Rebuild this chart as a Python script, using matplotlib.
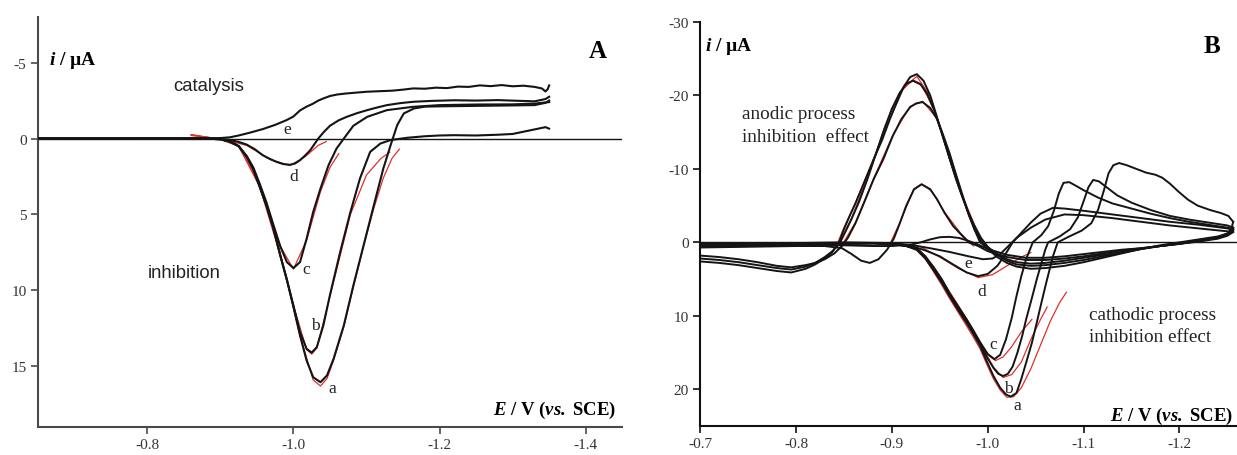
import matplotlib
matplotlib.use('Agg')
import matplotlib.pyplot as plt

plt.rcParams['font.family'] = 'Liberation Serif'
plt.rcParams['axes.unicode_minus'] = False
plt.rcParams['mathtext.fontset'] = 'custom'
plt.rcParams['mathtext.rm'] = 'Liberation Serif'
plt.rcParams['mathtext.it'] = 'Liberation Serif:italic'
plt.rcParams['mathtext.bf'] = 'Liberation Serif:bold'
plt.rcParams['mathtext.bfit'] = 'Liberation Serif:italic:bold'

# ---------------- panel A data: (E / V, i / uA)
A_e = [(-0.65, 0.0), (-0.72, 0.02), (-0.80, 0.0), (-0.86, 0.0), (-0.90, -0.03), (-0.913, -0.08),
       (-0.925, -0.2), (-0.94, -0.38), (-0.958, -0.62), (-0.975, -0.9), (-0.99, -1.2), (-1.0, -1.45),
       (-1.009, -1.85), (-1.018, -2.1), (-1.027, -2.3), (-1.034, -2.5), (-1.041, -2.64), (-1.05, -2.8),
       (-1.06, -2.9), (-1.073, -2.97), (-1.085, -3.02), (-1.1, -3.08), (-1.119, -3.12), (-1.135, -3.15),
       (-1.15, -3.22), (-1.164, -3.3), (-1.18, -3.28), (-1.195, -3.35), (-1.21, -3.32), (-1.225, -3.42),
       (-1.24, -3.4), (-1.255, -3.5), (-1.27, -3.45), (-1.285, -3.52), (-1.3, -3.44), (-1.315, -3.48),
       (-1.33, -3.4), (-1.34, -3.3), (-1.345, -3.1), (-1.348, -3.25), (-1.35, -3.5)]
A_d = [(-0.65, 0.0), (-0.80, 0.0), (-0.88, 0.0), (-0.90, 0.02), (-0.913, 0.1), (-0.925, 0.22),
       (-0.936, 0.4), (-0.947, 0.7), (-0.958, 1.1), (-0.968, 1.35), (-0.977, 1.54), (-0.986, 1.68),
       (-0.995, 1.73), (-1.002, 1.65), (-1.009, 1.43), (-1.016, 1.12), (-1.023, 0.77), (-1.034, 0.0),
       (-1.042, -0.45), (-1.05, -0.84), (-1.062, -1.2), (-1.073, -1.43), (-1.087, -1.67), (-1.101, -1.87),
       (-1.115, -2.05), (-1.128, -2.2), (-1.146, -2.33), (-1.164, -2.42), (-1.19, -2.48), (-1.22, -2.52),
       (-1.25, -2.5), (-1.28, -2.53), (-1.31, -2.48), (-1.33, -2.45), (-1.345, -2.6), (-1.35, -2.75)]
A_c = [(-0.65, 0.0), (-0.80, 0.0), (-0.88, 0.0), (-0.90, 0.05), (-0.913, 0.2), (-0.925, 0.5),
       (-0.936, 1.15), (-0.945, 1.9), (-0.954, 3.0), (-0.963, 4.2), (-0.972, 5.6), (-0.982, 7.1),
       (-0.991, 8.14), (-1.0, 8.53), (-1.009, 8.14), (-1.018, 6.6), (-1.027, 4.84), (-1.037, 3.3),
       (-1.048, 1.76), (-1.059, 0.66), (-1.069, 0.0), (-1.082, -0.84), (-1.101, -1.43), (-1.128, -1.87),
       (-1.164, -2.09), (-1.2, -2.2), (-1.25, -2.24), (-1.3, -2.25), (-1.33, -2.3), (-1.35, -2.4)]
A_b = [(-0.65, 0.0), (-0.80, 0.0), (-0.88, 0.0), (-0.90, 0.05), (-0.913, 0.2), (-0.925, 0.5),
       (-0.936, 1.2), (-0.945, 2.0), (-0.954, 3.2), (-0.963, 4.4), (-0.972, 5.8), (-0.982, 7.7),
       (-0.991, 9.3), (-1.0, 11.0), (-1.009, 12.75), (-1.018, 13.85), (-1.025, 14.1), (-1.032, 13.74),
       (-1.041, 12.3), (-1.05, 10.3), (-1.064, 7.47), (-1.078, 4.84), (-1.091, 2.64), (-1.105, 0.88),
       (-1.119, 0.33), (-1.133, 0.1), (-1.156, -0.05), (-1.18, -0.15), (-1.2, -0.2), (-1.22, -0.22),
       (-1.25, -0.2), (-1.28, -0.25), (-1.3, -0.3), (-1.315, -0.45), (-1.33, -0.6), (-1.345, -0.75),
       (-1.35, -0.65)]
A_a = [(-0.65, 0.0), (-0.80, 0.0), (-0.88, 0.0), (-0.90, 0.05), (-0.913, 0.2), (-0.925, 0.5),
       (-0.936, 1.2), (-0.945, 2.0), (-0.954, 3.2), (-0.963, 4.4), (-0.972, 5.8), (-0.982, 7.7),
       (-0.991, 9.3), (-1.0, 11.1), (-1.009, 12.97), (-1.018, 14.62), (-1.027, 15.72), (-1.037, 16.05),
       (-1.046, 15.6), (-1.055, 14.5), (-1.069, 12.3), (-1.082, 9.68), (-1.096, 7.04), (-1.11, 4.4),
       (-1.123, 1.98), (-1.133, 0.44), (-1.142, -0.88), (-1.151, -1.65), (-1.165, -1.98), (-1.18, -2.1),
       (-1.2, -2.12), (-1.25, -2.15), (-1.3, -2.18), (-1.33, -2.2), (-1.345, -2.35), (-1.35, -2.5)]

# red fitted peaks, panel A
A_fit_a = [(-0.86, -0.25), (-0.88, -0.1), (-0.90, 0.05), (-0.913, 0.2), (-0.925, 0.5), (-0.936, 1.2),
           (-0.954, 3.2), (-0.972, 5.8), (-0.991, 9.3), (-1.009, 13.0), (-1.027, 15.9), (-1.037, 16.3),
           (-1.046, 15.8), (-1.055, 14.6), (-1.069, 12.4), (-1.082, 9.8), (-1.096, 7.1), (-1.11, 4.6),
           (-1.123, 2.6), (-1.135, 1.3), (-1.145, 0.7)]
A_fit_b = [(-0.86, -0.25), (-0.90, 0.05), (-0.925, 0.5), (-0.954, 3.2), (-0.982, 7.7), (-1.0, 11.0),
           (-1.018, 13.9), (-1.025, 14.2), (-1.032, 13.8), (-1.05, 10.4), (-1.078, 5.0), (-1.1, 2.4),
           (-1.12, 1.3), (-1.132, 0.9)]
A_fit_c = [(-0.86, -0.2), (-0.90, 0.05), (-0.925, 0.5), (-0.954, 3.0), (-0.982, 7.1), (-1.0, 8.6),
           (-1.018, 6.7), (-1.037, 3.5), (-1.05, 1.9), (-1.062, 1.0)]
A_fit_d = [(-0.87, -0.15), (-0.90, 0.02), (-0.936, 0.45), (-0.968, 1.38), (-0.995, 1.78),
           (-1.016, 1.2), (-1.034, 0.45), (-1.045, 0.2)]

# ---------------- panel B data: forward (to -1.26 V) and reverse scans
B_a_fwd = [(-0.70, 0.5), (-0.75, 0.4), (-0.80, 0.3), (-0.85, 0.2), (-0.88, 0.15), (-0.90, 0.2),
           (-0.915, 0.5), (-0.926, 1.0), (-0.935, 2.2), (-0.943, 3.7), (-0.952, 5.5), (-0.96, 7.3),
           (-0.969, 9.2), (-0.978, 11.0), (-0.985, 12.5), (-0.992, 14.1), (-0.999, 16.2), (-1.006, 18.2),
           (-1.013, 19.8), (-1.019, 20.7), (-1.024, 21.0), (-1.03, 20.5), (-1.035, 18.6), (-1.04, 16.4),
           (-1.046, 13.7), (-1.051, 11.0), (-1.056, 8.2), (-1.061, 5.5), (-1.068, 1.9), (-1.073, 0.0),
           (-1.085, -0.8), (-1.098, -1.6), (-1.108, -2.6), (-1.115, -4.4), (-1.121, -7.0),
           (-1.126, -9.4), (-1.131, -10.5), (-1.137, -10.8), (-1.145, -10.5), (-1.155, -10.0),
           (-1.165, -9.5), (-1.175, -9.2), (-1.182, -8.8), (-1.19, -8.0), (-1.199, -6.9),
           (-1.209, -5.8), (-1.219, -5.0), (-1.232, -4.4), (-1.243, -4.0), (-1.251, -3.6), (-1.256, -2.8)]
B_a_rev = [(-1.256, -2.8), (-1.254, -1.8), (-1.25, -1.2), (-1.24, -0.8), (-1.22, -0.4), (-1.2, 0.0),
           (-1.18, 0.4), (-1.16, 0.9), (-1.14, 1.5), (-1.12, 2.1), (-1.10, 2.7), (-1.08, 3.2),
           (-1.06, 3.5), (-1.045, 3.6), (-1.03, 3.3), (-1.02, 2.8), (-1.01, 2.0), (-1.0, 0.9),
           (-0.992, -0.4), (-0.986, -2.0), (-0.981, -3.6), (-0.974, -6.0), (-0.967, -8.6), (-0.96, -11.5),
           (-0.953, -14.5), (-0.946, -17.5), (-0.94, -20.0), (-0.933, -22.0), (-0.926, -22.9),
           (-0.919, -22.5), (-0.912, -21.1), (-0.905, -19.0), (-0.898, -16.8), (-0.89, -14.0),
           (-0.881, -11.3), (-0.87, -7.8), (-0.862, -5.3), (-0.856, -3.6), (-0.85, -1.8), (-0.845, 0.0),
           (-0.838, 1.3), (-0.83, 2.2), (-0.82, 3.0), (-0.81, 3.6), (-0.795, 4.1), (-0.78, 3.9),
           (-0.76, 3.5), (-0.74, 3.1), (-0.72, 2.8), (-0.70, 2.6)]
B_b_fwd = [(-0.70, 0.4), (-0.75, 0.35), (-0.80, 0.25), (-0.85, 0.15), (-0.88, 0.1), (-0.90, 0.2),
           (-0.915, 0.45), (-0.926, 0.9), (-0.935, 2.0), (-0.943, 3.5), (-0.952, 5.2), (-0.96, 7.0),
           (-0.969, 8.9), (-0.978, 10.7), (-0.985, 12.2), (-0.992, 13.8), (-0.999, 15.6), (-1.006, 17.1),
           (-1.011, 17.9), (-1.016, 18.2), (-1.021, 17.9), (-1.026, 16.9), (-1.031, 15.0), (-1.036, 12.7),
           (-1.04, 10.5), (-1.046, 7.6), (-1.051, 5.1), (-1.056, 2.8), (-1.06, 1.0), (-1.063, 0.0),
           (-1.075, -0.8), (-1.086, -1.8), (-1.094, -3.4), (-1.1, -5.6), (-1.105, -7.5),
           (-1.11, -8.5), (-1.116, -8.3), (-1.125, -7.4), (-1.135, -6.4), (-1.15, -5.4), (-1.17, -4.4),
           (-1.19, -3.6), (-1.21, -3.1), (-1.23, -2.7), (-1.25, -2.3), (-1.256, -2.0)]
B_b_rev = [(-1.256, -2.0), (-1.25, -1.2), (-1.24, -0.7), (-1.22, -0.3), (-1.2, 0.1), (-1.18, 0.5),
           (-1.16, 0.9), (-1.14, 1.4), (-1.12, 1.9), (-1.1, 2.4), (-1.08, 2.8), (-1.06, 3.1),
           (-1.045, 3.2), (-1.03, 3.0), (-1.02, 2.5), (-1.01, 1.7), (-1.0, 0.6), (-0.993, -0.6),
           (-0.986, -2.3), (-0.979, -4.3), (-0.972, -6.8), (-0.965, -9.5), (-0.958, -12.4),
           (-0.951, -15.3), (-0.944, -18.0), (-0.937, -20.2), (-0.93, -21.5), (-0.922, -22.0),
           (-0.915, -21.6), (-0.908, -20.3), (-0.9, -18.2), (-0.892, -15.4), (-0.884, -12.3),
           (-0.875, -8.8), (-0.866, -5.6), (-0.858, -3.2), (-0.851, -1.3), (-0.846, 0.0), (-0.838, 1.2),
           (-0.83, 2.0), (-0.82, 2.8), (-0.81, 3.3), (-0.795, 3.7), (-0.78, 3.5), (-0.76, 3.1),
           (-0.74, 2.7), (-0.72, 2.4), (-0.70, 2.2)]
B_c_fwd = [(-0.70, 0.6), (-0.75, 0.45), (-0.80, 0.3), (-0.85, 0.2), (-0.88, 0.15), (-0.90, 0.25),
           (-0.915, 0.5), (-0.926, 0.8), (-0.935, 1.9), (-0.943, 3.3), (-0.952, 5.0), (-0.96, 6.9),
           (-0.969, 8.7), (-0.978, 10.5), (-0.985, 12.0), (-0.992, 13.6), (-1.0, 15.2), (-1.007, 15.9),
           (-1.013, 15.3), (-1.019, 13.2), (-1.025, 10.3), (-1.03, 7.3), (-1.035, 4.6), (-1.04, 2.3),
           (-1.047, 0.0), (-1.056, -1.0), (-1.063, -2.2), (-1.069, -4.3), (-1.074, -6.6),
           (-1.079, -8.1), (-1.085, -8.2), (-1.092, -7.7), (-1.1, -7.1), (-1.115, -6.1), (-1.13, -5.3),
           (-1.15, -4.6), (-1.17, -3.9), (-1.19, -3.3), (-1.21, -2.8), (-1.23, -2.4), (-1.25, -2.0),
           (-1.256, -1.8)]
B_c_rev = [(-1.256, -1.8), (-1.25, -1.1), (-1.24, -0.6), (-1.22, -0.2), (-1.2, 0.2), (-1.18, 0.5),
           (-1.16, 0.9), (-1.14, 1.3), (-1.12, 1.7), (-1.1, 2.1), (-1.08, 2.5), (-1.06, 2.8),
           (-1.045, 2.9), (-1.03, 2.7), (-1.02, 2.3), (-1.01, 1.6), (-1.0, 0.7), (-0.992, 0.0),
           (-0.986, -1.8), (-0.98, -3.8), (-0.974, -6.3), (-0.967, -9.2), (-0.96, -12.2), (-0.953, -14.8),
           (-0.947, -16.8), (-0.94, -18.3), (-0.932, -19.1), (-0.925, -18.9), (-0.919, -18.4),
           (-0.91, -16.8), (-0.901, -14.5), (-0.891, -11.3), (-0.881, -8.6), (-0.871, -5.4),
           (-0.862, -2.6), (-0.854, -0.6), (-0.848, 0.5), (-0.84, 1.5), (-0.83, 2.3), (-0.82, 2.8),
           (-0.81, 3.1), (-0.795, 3.4), (-0.78, 3.2), (-0.76, 2.7), (-0.74, 2.3), (-0.72, 2.0),
           (-0.70, 1.8)]
B_d_fwd = [(-0.70, 0.3), (-0.75, 0.25), (-0.80, 0.2), (-0.85, 0.1), (-0.88, 0.1), (-0.90, 0.2),
           (-0.92, 0.5), (-0.935, 1.1), (-0.95, 1.9), (-0.965, 3.1), (-0.978, 4.1), (-0.99, 4.6),
           (-1.0, 4.3), (-1.01, 3.2), (-1.018, 1.7), (-1.026, 0.0), (-1.035, -1.3), (-1.045, -2.7),
           (-1.055, -3.9), (-1.068, -4.7), (-1.08, -4.6), (-1.1, -4.3), (-1.13, -3.8), (-1.16, -3.3),
           (-1.19, -2.8), (-1.22, -2.4), (-1.25, -1.9), (-1.256, -1.7)]
B_d_rev = [(-1.256, -1.7), (-1.25, -1.0), (-1.24, -0.6), (-1.22, -0.2), (-1.2, 0.2), (-1.18, 0.5),
           (-1.16, 0.8), (-1.14, 1.1), (-1.12, 1.5), (-1.1, 1.9), (-1.08, 2.2), (-1.06, 2.4),
           (-1.04, 2.4), (-1.02, 2.0), (-1.0, 1.2), (-0.99, 0.5), (-0.98, 0.0), (-0.972, -1.1),
           (-0.964, -2.2), (-0.955, -4.0), (-0.947, -5.9), (-0.94, -7.2), (-0.931, -7.9), (-0.923, -7.2),
           (-0.915, -5.0), (-0.908, -2.5), (-0.902, -0.5), (-0.895, 1.0), (-0.886, 2.3), (-0.877, 2.8),
           (-0.868, 2.5), (-0.858, 1.6), (-0.848, 0.8), (-0.83, 0.5), (-0.8, 0.5), (-0.75, 0.6),
           (-0.70, 0.7)]
B_e_fwd = [(-0.70, 0.2), (-0.75, 0.15), (-0.80, 0.1), (-0.85, 0.0), (-0.90, 0.1), (-0.92, 0.35),
           (-0.94, 0.8), (-0.96, 1.3), (-0.98, 1.9), (-0.995, 2.3), (-1.005, 2.2), (-1.013, 1.6),
           (-1.02, 0.7), (-1.03, -0.6), (-1.045, -2.0), (-1.06, -3.1), (-1.08, -3.8), (-1.1, -3.7),
           (-1.13, -3.3), (-1.16, -2.8), (-1.19, -2.3), (-1.22, -1.9), (-1.25, -1.5), (-1.256, -1.4)]
B_e_rev = [(-1.256, -1.4), (-1.25, -0.9), (-1.24, -0.5), (-1.22, -0.1), (-1.2, 0.2), (-1.18, 0.5),
           (-1.16, 0.8), (-1.14, 1.0), (-1.12, 1.3), (-1.1, 1.6), (-1.08, 1.9), (-1.06, 2.1),
           (-1.04, 2.1), (-1.02, 1.7), (-1.0, 0.9), (-0.99, 0.3), (-0.98, -0.2), (-0.97, -0.6),
           (-0.96, -0.75), (-0.95, -0.7), (-0.94, -0.4), (-0.93, 0.0), (-0.92, 0.3), (-0.9, 0.5),
           (-0.88, 0.5), (-0.85, 0.4), (-0.8, 0.4), (-0.75, 0.5), (-0.70, 0.6)]

# red fitted peaks, panel B
B_fit_cath_a = [(-0.90, 0.1), (-0.915, 0.5), (-0.926, 1.1), (-0.935, 2.3), (-0.943, 3.9), (-0.952, 5.8),
                (-0.96, 7.6), (-0.969, 9.5), (-0.978, 11.4), (-0.985, 12.9), (-0.992, 14.5), (-0.999, 16.6),
                (-1.006, 18.6), (-1.013, 20.1), (-1.02, 21.1), (-1.027, 21.0), (-1.035, 19.8),
                (-1.045, 17.2), (-1.055, 14.0), (-1.065, 10.8), (-1.075, 8.2), (-1.082, 6.8)]
B_fit_cath_b = [(-0.90, 0.1), (-0.926, 0.8), (-0.943, 3.3), (-0.96, 6.8), (-0.978, 10.5), (-0.992, 13.7),
                (-1.006, 17.0), (-1.016, 18.4), (-1.025, 18.0), (-1.035, 16.3), (-1.045, 13.2),
                (-1.055, 10.5), (-1.062, 8.8)]
B_fit_cath_c = [(-0.90, 0.1), (-0.926, 0.9), (-0.943, 3.2), (-0.96, 6.7), (-0.978, 10.4), (-0.992, 13.5),
                (-1.0, 15.3), (-1.008, 16.1), (-1.016, 15.6), (-1.025, 14.2), (-1.035, 12.2),
                (-1.046, 10.5)]
B_fit_cath_d = [(-0.93, 0.6), (-0.95, 2.0), (-0.97, 3.6), (-0.99, 4.8), (-1.005, 4.4), (-1.02, 3.2),
                (-1.035, 2.0), (-1.045, 1.4)]
B_fit_an_a = [(-0.998, 0.8), (-0.992, -0.3), (-0.981, -3.5), (-0.967, -8.5), (-0.953, -14.4),
              (-0.94, -19.9), (-0.926, -22.6), (-0.912, -21.0), (-0.898, -16.9), (-0.881, -11.4),
              (-0.862, -5.4), (-0.85, -2.0), (-0.842, 0.5)]
B_fit_an_b = [(-0.997, 0.6), (-0.986, -2.4), (-0.972, -6.9), (-0.958, -12.5), (-0.944, -18.1),
              (-0.93, -21.6), (-0.922, -22.1), (-0.908, -20.4), (-0.892, -15.5), (-0.875, -8.9),
              (-0.858, -3.3), (-0.843, 0.6)]
B_fit_an_c = [(-0.996, 0.6), (-0.986, -1.7), (-0.974, -6.2), (-0.96, -12.1), (-0.947, -16.9),
              (-0.932, -19.2), (-0.919, -18.5), (-0.901, -14.6), (-0.881, -8.7), (-0.862, -2.7),
              (-0.846, 0.8)]
B_fit_an_d = [(-0.985, 0.5), (-0.972, -1.2), (-0.955, -4.1), (-0.94, -7.3), (-0.931, -7.95),
              (-0.923, -7.3), (-0.908, -2.6), (-0.898, 0.2)]

curve_labels_A = {'a': (-1.053, 16.4), 'b': (-1.030, 12.3), 'c': (-1.017, 8.6),
                  'd': (-1.000, 2.5), 'e': (-0.991, -0.62)}
curve_labels_B = {'a': (-1.031, 22.1), 'b': (-1.021, 19.8), 'c': (-1.006, 13.9),
                  'd': (-0.9934, 6.6), 'e': (-0.9795, 2.8)}

BLACK = '#141414'
RED = '#e0302a'


def draw(ax, pts, color=BLACK, lw=1.5, z=3):
    xs = [p[0] for p in pts]
    ys = [p[1] for p in pts]
    ax.plot(xs, ys, color=color, lw=lw, zorder=z, solid_joinstyle='round')


fig = plt.figure(figsize=(12.37, 4.56), dpi=100)
axA = fig.add_axes([0.0305, 0.0614, 0.4725, 0.899])
axB = fig.add_axes([0.566, 0.0636, 0.434, 0.886])

# panel A
for pts in [A_fit_a, A_fit_b, A_fit_c, A_fit_d]:
    draw(axA, pts, RED, 0.9, 2)
for pts in [A_a, A_b, A_c, A_d, A_e]:
    draw(axA, pts)
axA.axhline(0, color=BLACK, lw=1.0, zorder=1)
axA.set_xlim(-0.65, -1.45)
axA.set_ylim(19, -8)
axA.set_xticks([-0.8, -1.0, -1.2, -1.4])
axA.set_xticklabels(['-0.8', '-1.0', '-1.2', '-1.4'])
axA.set_yticks([-5, 0, 5, 10, 15])
axA.set_yticklabels(['-5', '0', '5', '10', '15'])
for k, (x, y) in curve_labels_A.items():
    axA.text(x, y, k, fontsize=12.5, ha='center', va='center', color='#222222')
axA.text(-0.884, -3.5, 'catalysis', family='Liberation Sans', fontsize=13.3,
         ha='center', va='center', color='#222222')
axA.text(-0.851, 8.84, 'inhibition', family='Liberation Sans', fontsize=13.3,
         ha='center', va='center', color='#222222')

# panel B
for pts in [B_fit_cath_a, B_fit_cath_b, B_fit_cath_c, B_fit_cath_d,
            B_fit_an_a, B_fit_an_b, B_fit_an_c, B_fit_an_d]:
    draw(axB, pts, RED, 0.9, 2)
for pts in [B_a_fwd, B_a_rev, B_b_fwd, B_b_rev, B_c_fwd, B_c_rev,
            B_d_fwd, B_d_rev, B_e_fwd, B_e_rev]:
    draw(axB, pts, lw=1.4)
axB.axhline(0, color=BLACK, lw=1.0, zorder=1)
axB.set_xlim(-0.7, -1.26)
axB.set_ylim(25, -30)
axB.set_xticks([-0.7, -0.8, -0.9, -1.0, -1.1, -1.2])
axB.set_xticklabels(['-0.7', '-0.8', '-0.9', '-1.0', '-1.1', '-1.2'])
axB.set_yticks([-30, -20, -10, 0, 10, 20])
axB.set_yticklabels(['-30', '-20', '-10', '0', '10', '20'])
for k, (x, y) in curve_labels_B.items():
    axB.text(x, y, k, fontsize=12.5, ha='center', va='center', color='#222222')

for ax, spc in [(axA, '#4a4a4a'), (axB, '#111111')]:
    for s in ['top', 'right']:
        ax.spines[s].set_visible(False)
    for s in ['left', 'bottom']:
        ax.spines[s].set_color(spc)
        ax.spines[s].set_linewidth(1.5)
    ax.tick_params(direction='out', length=5, width=1.2, labelsize=11,
                   colors=spc, labelcolor='#333333', pad=3)

# axis titles and panel letters (figure coordinates)
fig.text(0.0396, 0.868, r'$\mathbfit{i}$ / µA', fontsize=14, fontweight='bold', va='center')
fig.text(0.570, 0.897, r'$\mathbfit{i}$ / µA', fontsize=14, fontweight='bold', va='center')
fig.text(0.4834, 0.886, 'A', fontsize=18, fontweight='bold', ha='center', va='center')
fig.text(0.980, 0.899, 'B', fontsize=18, fontweight='bold', ha='center', va='center')
fig.text(0.498, 0.099, r'$\mathbfit{E}$ / V ($\mathbfit{vs.}$ SCE)', fontsize=13.5,
         fontweight='bold', ha='right', va='center')
fig.text(0.9968, 0.086, r'$\mathbfit{E}$ / V ($\mathbfit{vs.}$ SCE)', fontsize=13.5,
         fontweight='bold', ha='right', va='center')
fig.text(0.5998, 0.7237, 'anodic process\ninhibition  effect', fontsize=13.8,
         ha='left', va='center', linespacing=1.4, color='#222222')
fig.text(0.8804, 0.284, 'cathodic process\ninhibition effect', fontsize=13.8,
         ha='left', va='center', linespacing=1.4, color='#222222')

fig.savefig('out.png', dpi=100)
